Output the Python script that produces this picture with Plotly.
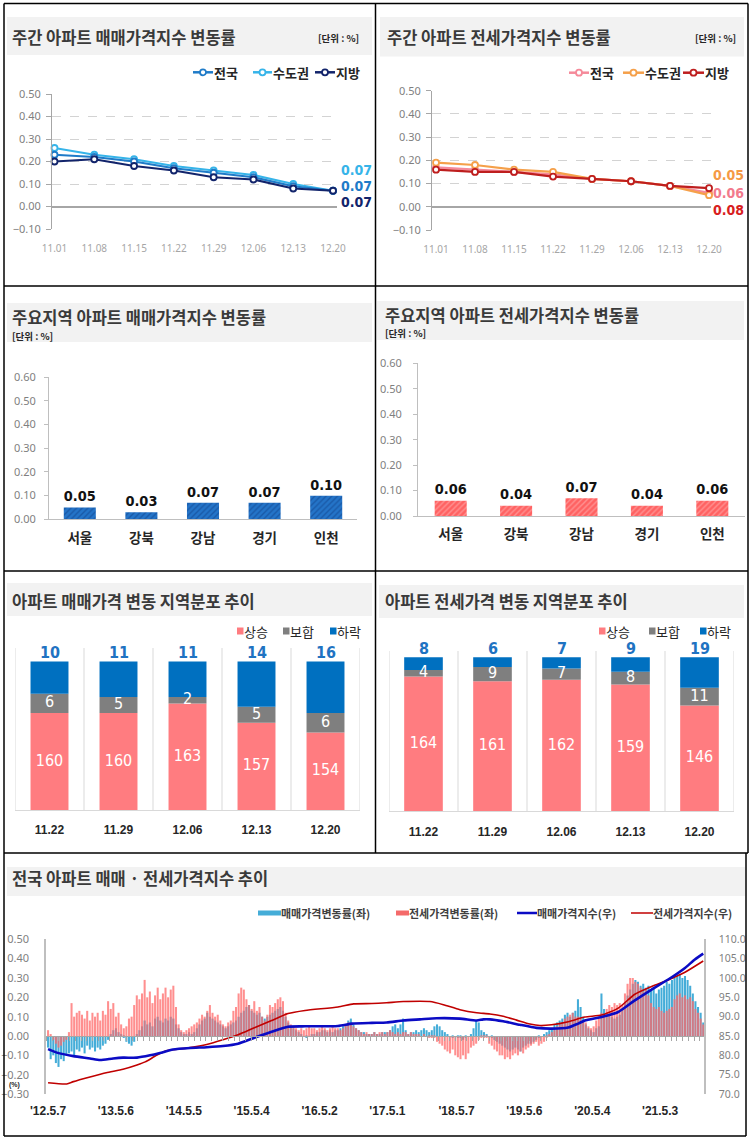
import plotly.graph_objects as go
import pandas as pd

W, H = 753, 1140


def X(px):
    return px / W


def Y(py):
    return 1 - py / H


KR = "Noto Sans CJK KR, Noto Sans, sans-serif"
SANS = "Noto Sans, Liberation Sans, sans-serif"
ARIAL = "Liberation Sans, Arial, sans-serif"
NARROW = "Liberation Sans Narrow, DejaVu Sans Condensed, Liberation Sans, sans-serif"

# ============================ DATA ============================
weeks = ["11.01", "11.08", "11.15", "11.22", "11.29", "12.06", "12.13", "12.20"]
sale_nat = [0.23, 0.22, 0.20, 0.17, 0.15, 0.13, 0.09, 0.07]
sale_cap = [0.26, 0.23, 0.21, 0.18, 0.16, 0.14, 0.10, 0.07]
sale_loc = [0.20, 0.21, 0.18, 0.16, 0.13, 0.12, 0.08, 0.07]
jeonse_nat = [0.17, 0.16, 0.15, 0.14, 0.12, 0.11, 0.09, 0.06]
jeonse_cap = [0.19, 0.18, 0.16, 0.15, 0.12, 0.11, 0.09, 0.05]
jeonse_loc = [0.16, 0.15, 0.15, 0.13, 0.12, 0.11, 0.09, 0.08]

regions = ["서울", "강북", "강남", "경기", "인천"]
region_sale = [0.05, 0.03, 0.07, 0.07, 0.10]
region_jeonse = [0.06, 0.04, 0.07, 0.04, 0.06]

dist_weeks = ["11.22", "11.29", "12.06", "12.13", "12.20"]
sale_up = [160, 160, 163, 157, 154]
sale_flat = [6, 5, 2, 5, 6]
sale_down = [10, 11, 11, 14, 16]
jeonse_up = [164, 161, 162, 159, 146]
jeonse_flat = [4, 9, 7, 8, 11]
jeonse_down = [8, 6, 7, 9, 19]

# bi-weekly samples starting 2012-05-07 (weekly change rates, %)
rate_start = "2012-05-07"
sale_rate = [
    -0.06, -0.12, -0.10, -0.14, -0.16, -0.12, -0.13, -0.10, -0.09, -0.08, -0.10, -0.07, -0.08, -0.06, -0.09, -0.05, -0.07, -0.06,
    -0.08, -0.06, -0.07, -0.05, -0.04, -0.02, 0.01, 0.03, 0.04, 0.02, 0.01, -0.01, -0.03, -0.04, -0.05, -0.03, 0.01, 0.03, 0.05, 0.08, 0.06, 0.07, 0.05, 0.09, 0.10, 0.08,
    0.07, 0.09, 0.08, 0.10, 0.09, 0.06, 0.04, 0.02, 0.01, 0.01, 0.02, 0.01, 0.02, 0.04, 0.06, 0.08, 0.09, 0.12, 0.10, 0.09, 0.08, 0.07, 0.06, 0.05, 0.04, 0.05,
    0.06, 0.07, 0.08, 0.10, 0.12, 0.13, 0.15, 0.16, 0.13, 0.12, 0.11, 0.12, 0.10, 0.09, 0.10, 0.11, 0.12, 0.13, 0.14, 0.15, 0.13, 0.10, 0.07, 0.05, 0.04, 0.03,
    0.02, 0.01, 0.00, -0.01, 0.00, 0.01, 0.01, 0.02, 0.02, 0.03, 0.03, 0.02, 0.03, 0.02, 0.03, 0.03, 0.04, 0.05, 0.06, 0.08, 0.09, 0.06, 0.04, 0.03, 0.02, 0.02,
    0.01, 0.01, 0.01, 0.02, 0.01, 0.01, 0.02, 0.02, 0.02, 0.03, 0.05, 0.06, 0.04, 0.06, 0.09, 0.03, 0.01, 0.02, 0.02, 0.03, 0.02, 0.03, 0.04, 0.03, 0.02, 0.03,
    0.05, 0.06, 0.05, 0.03, 0.02, 0.01, 0.00, -0.01, 0.00, -0.01, -0.01, -0.02, -0.01, 0.00, 0.01, 0.04, 0.08, 0.07, 0.03, 0.02, 0.01, 0.00, -0.01, -0.02, -0.03, -0.04,
    -0.05, -0.06, -0.07, -0.08, -0.07, -0.06, -0.07, -0.08, -0.06, -0.05, -0.04, -0.04, -0.03, -0.02, -0.01, 0.00, 0.01, 0.02, 0.03, 0.04, 0.06, 0.07, 0.08, 0.09, 0.11, 0.12,
    0.10, 0.12, 0.13, 0.19, 0.15, 0.10, 0.06, 0.04, 0.03, 0.02, 0.04, 0.05, 0.22, 0.14, 0.12, 0.11, 0.10, 0.09, 0.10, 0.11, 0.14, 0.17, 0.21, 0.24, 0.27, 0.29,
    0.28, 0.26, 0.27, 0.25, 0.26, 0.24, 0.25, 0.22, 0.24, 0.25, 0.26, 0.28, 0.27, 0.29, 0.30, 0.31, 0.32, 0.30, 0.31, 0.29, 0.26, 0.22, 0.18, 0.15, 0.12, 0.07,
]
jeonse_rate = [
    0.03, 0.01, -0.02, -0.04, -0.06, -0.05, -0.03, -0.02, 0.02, 0.17, 0.10, 0.12, 0.13, 0.11, 0.09, 0.13, 0.08, 0.12,
    0.10, 0.12, 0.08, 0.13, 0.11, 0.18, 0.14, 0.17, 0.10, 0.12, 0.06, 0.04, 0.05, 0.09, 0.10, 0.16, 0.21, 0.19, 0.22, 0.29, 0.20, 0.23, 0.17, 0.21, 0.25, 0.19,
    0.22, 0.25, 0.20, 0.24, 0.26, 0.15, 0.06, 0.03, 0.02, 0.03, 0.04, 0.05, 0.06, 0.07, 0.09, 0.11, 0.10, 0.13, 0.16, 0.12, 0.10, 0.11, 0.08, 0.06, 0.05, 0.07,
    0.08, 0.13, 0.15, 0.22, 0.25, 0.24, 0.19, 0.16, 0.14, 0.18, 0.13, 0.15, 0.10, 0.08, 0.11, 0.16, 0.15, 0.17, 0.19, 0.20, 0.18, 0.12, 0.08, 0.06, 0.05, 0.04,
    0.03, 0.04, 0.03, 0.04, 0.05, 0.04, 0.04, 0.03, 0.04, 0.05, 0.04, 0.03, 0.04, 0.05, 0.04, 0.04, 0.03, 0.04, 0.06, 0.07, 0.06, 0.05, 0.04, 0.03, 0.02, 0.01,
    0.02, 0.01, 0.01, 0.02, 0.01, 0.02, 0.02, 0.01, 0.02, 0.03, 0.02, 0.01, 0.02, 0.01, 0.02, 0.02, 0.01, 0.02, 0.01, 0.01, 0.01, 0.00, 0.01, 0.00, -0.01, -0.01,
    -0.01, -0.03, -0.04, -0.05, -0.07, -0.08, -0.09, -0.07, -0.10, -0.11, -0.12, -0.10, -0.12, -0.09, -0.06, -0.05, -0.04, -0.02, -0.01, -0.01, -0.01, -0.04, -0.05, -0.07, -0.08, -0.10,
    -0.10, -0.12, -0.11, -0.12, -0.10, -0.09, -0.10, -0.08, -0.09, -0.07, -0.06, -0.05, -0.04, -0.03, -0.05, -0.04, -0.03, -0.01, 0.01, 0.02, 0.03, 0.05, 0.06, 0.07, 0.09, 0.10,
    0.11, 0.12, 0.10, 0.10, 0.09, 0.08, 0.07, 0.05, 0.04, 0.05, 0.08, 0.10, 0.12, 0.11, 0.14, 0.16, 0.15, 0.17, 0.16, 0.17, 0.16, 0.22, 0.27, 0.30, 0.30, 0.28,
    0.27, 0.25, 0.23, 0.24, 0.21, 0.17, 0.15, 0.14, 0.15, 0.13, 0.12, 0.13, 0.14, 0.15, 0.19, 0.21, 0.22, 0.20, 0.21, 0.19, 0.20, 0.18, 0.14, 0.12, 0.09, 0.06,
]

sale_index_dates = [
    "2012-05-07", "2012-06-23", "2012-09-20", "2012-12-18", "2013-02-10", "2013-04-21", "2013-06-13",
    "2013-08-27", "2013-11-05", "2013-12-28", "2014-03-08", "2014-06-07", "2014-09-05", "2014-12-01",
    "2015-02-20", "2015-05-22", "2015-08-19", "2015-11-15", "2016-02-14", "2016-08-09", "2016-10-23",
    "2017-02-07", "2017-04-27", "2017-07-25", "2017-10-23", "2018-01-20", "2018-05-25", "2018-08-23",
    "2018-09-27", "2018-11-02", "2019-01-12", "2019-04-12", "2019-07-10", "2019-09-29", "2019-12-27",
    "2020-02-18", "2020-03-25", "2020-06-23", "2020-09-20", "2020-12-18", "2021-03-18", "2021-06-15",
    "2021-09-13", "2021-11-05", "2021-12-20",
]
sale_index = [
    81.6, 80.7, 79.8, 79.2, 78.8, 79.2, 79.4,
    79.4, 80.0, 80.6, 81.5, 81.9, 82.1, 82.4,
    83.0, 84.6, 86.1, 87.4, 87.5, 87.6, 88.2,
    88.4, 88.5, 89.0, 89.3, 89.6, 89.5, 89.0,
    89.3, 89.3, 88.8, 87.9, 87.1, 86.9, 87.2,
    88.2, 89.0, 89.9, 91.2, 94.2, 97.0, 99.6,
    102.6, 104.8, 106.3,
]
jeonse_index_dates = [
    "2012-05-07", "2012-08-15", "2012-09-20", "2012-12-18", "2013-03-15", "2013-06-13", "2013-08-27",
    "2013-10-10", "2013-12-10", "2014-02-01", "2014-04-01", "2014-06-07", "2014-09-05", "2014-12-01",
    "2015-02-20", "2015-05-22", "2015-08-19", "2015-11-15", "2016-02-14", "2016-08-09", "2016-11-01",
    "2017-02-07", "2017-04-27", "2017-07-25", "2017-12-15", "2018-02-25", "2018-05-25", "2018-08-23",
    "2018-11-02", "2019-01-12", "2019-03-25", "2019-06-04", "2019-07-28", "2019-09-29", "2019-12-27",
    "2020-03-25", "2020-06-23", "2020-09-20", "2020-12-18", "2021-03-18", "2021-06-15", "2021-09-13",
    "2021-12-20",
]
jeonse_index = [
    72.9, 72.6, 73.2, 74.4, 75.5, 76.4, 77.5,
    78.3, 80.0, 81.2, 81.6, 82.0, 82.8, 84.0,
    85.3, 87.2, 89.0, 90.8, 91.6, 92.5, 93.3,
    93.4, 93.6, 93.9, 93.9, 93.1, 91.8, 91.0,
    90.7, 90.1, 89.1, 88.1, 87.7, 87.9, 88.7,
    89.9, 90.4, 92.2, 95.8, 97.8, 99.5, 101.5,
    104.4,
]

trend_tick_dates = ["2012-05-07", "2013-05-06", "2014-05-05", "2015-05-04", "2016-05-02",
                    "2017-05-01", "2018-05-07", "2019-05-06", "2020-05-04", "2021-05-03"]
trend_tick_labels = ["'12.5.7", "'13.5.6", "'14.5.5", "'15.5.4", "'16.5.2",
                     "'17.5.1", "'18.5.7", "'19.5.6", "'20.5.4", "'21.5.3"]

# ============================ STYLE ============================
C_NAT, C_CAP, C_LOC = "#1F7BC8", "#36B4E9", "#12246B"
J_NAT, J_CAP, J_LOC = "#F58A9A", "#F5A04A", "#BE1E1E"
C_UP, C_FLAT, C_DOWN = "#FF7C80", "#7F7F7F", "#0070C0"
C_RATE_S, C_RATE_J = "#45ADD8", "#FF6A6A"
C_IDX_S, C_IDX_J = "#0B0BC4", "#C00000"

fig = go.Figure()
annotations = []
shapes = []


def text(x, y, s, size, color="#262626", family=KR, bold=False, xanchor="left", yanchor="middle"):
    annotations.append(dict(x=X(x), y=Y(y), xref="paper", yref="paper",
                            text=f"<b>{s}</b>" if bold else s, showarrow=False,
                            xanchor=xanchor, yanchor=yanchor, borderpad=0,
                            xshift=-2 if xanchor == "left" else (2 if xanchor == "right" else 0),
                            font=dict(family=family, size=size, color=color)))


def pline(x0, y0, x1, y1, color="black", width=1.5):
    shapes.append(dict(type="line", xref="paper", yref="paper", x0=X(x0), y0=Y(y0),
                       x1=X(x1), y1=Y(y1), line=dict(color=color, width=width)))


def prect(x0, y0, x1, y1, color, layer="below"):
    shapes.append(dict(type="rect", xref="paper", yref="paper", x0=X(x0), y0=Y(y1),
                       x1=X(x1), y1=Y(y0), fillcolor=color, line=dict(width=0), layer=layer))


def pcircle(cx, cy, r, color):
    shapes.append(dict(type="circle", xref="paper", yref="paper", x0=X(cx - r), x1=X(cx + r),
                       y0=Y(cy + r), y1=Y(cy - r), fillcolor="white",
                       line=dict(color=color, width=1.8), layer="above"))


# ---------------- panel frames & title bars ----------------
for x0, y0, x1, y1 in [(7, 17, 372, 55), (380, 17, 744, 56.5), (7, 303, 372, 342),
                       (377, 301, 744, 340), (7, 583, 372, 616), (379, 585, 744, 618),
                       (7, 867, 745, 896)]:
    prect(x0, y0, x1, y1, "#F2F2F2")

pline(4, 3.5, 748, 3.5)
pline(4, 286, 748, 286)
pline(4, 571, 748, 571)
pline(4, 853, 748, 853)
pline(4, 1136, 746, 1136)
pline(4, 3.5, 4, 1136)
pline(375.5, 3.5, 375.5, 853)
pline(748, 3.5, 748, 853)
pline(746, 853, 746, 1136)

TITLE_C = "#3A3A3A"
TS = 16.5
text(13, 37, "주간 아파트 매매가격지수 변동률", TS, TITLE_C, bold=True)
text(358, 38, "[단위 : %]", 9.5, "#262626", bold=True, xanchor="right")
text(388, 37, "주간 아파트 전세가격지수 변동률", TS, TITLE_C, bold=True)
text(735, 38, "[단위 : %]", 9.5, "#262626", bold=True, xanchor="right")
text(13, 317, "주요지역 아파트 매매가격지수 변동률", TS, TITLE_C, bold=True)
text(13, 336, "[단위 : %]", 9.5, "#262626", bold=True)
text(386, 314.5, "주요지역 아파트 전세가격지수 변동률", TS, TITLE_C, bold=True)
text(386, 333.5, "[단위 : %]", 9.5, "#262626", bold=True)
text(13, 601, "아파트 매매가격 변동 지역분포 추이", TS, TITLE_C, bold=True)
text(386, 601, "아파트 전세가격 변동 지역분포 추이", TS, TITLE_C, bold=True)
text(13, 878, "전국 아파트 매매 · 전세가격지수 추이", 16.5, TITLE_C, bold=True)


# ---------------- panels 1 & 2 : weekly line charts ----------------
def line_trace(vals, color, xa, ya):
    return go.Scatter(x=weeks, y=vals, mode="lines+markers",
                      line=dict(color=color, width=2.2),
                      marker=dict(size=6, color="white", line=dict(color=color, width=1.8)),
                      xaxis=xa, yaxis=ya, showlegend=False, cliponaxis=False, hoverinfo="skip")


for vals, c in [(sale_cap, C_CAP), (sale_nat, C_NAT), (sale_loc, C_LOC)]:
    fig.add_trace(line_trace(vals, c, "x", "y"))
for vals, c in [(jeonse_nat, J_NAT), (jeonse_cap, J_CAP), (jeonse_loc, J_LOC)]:
    fig.add_trace(line_trace(vals, c, "x2", "y2"))

LAST = len(weeks) - 1
for vals, c, ys in [(sale_cap, C_CAP, 21), (sale_nat, C_NAT, 5), (sale_loc, C_LOC, -11)]:
    annotations.append(dict(x=LAST, y=vals[-1], xref="x", yref="y", text=f"<b>{vals[-1]:.2f}</b>",
                            showarrow=False, xanchor="left", yanchor="middle", xshift=7, yshift=ys,
                            borderpad=0, font=dict(family=NARROW, size=14, color=c)))
for vals, c, ys in [(jeonse_cap, "#F59A45", 20), (jeonse_nat, "#F27A8C", 0), (jeonse_loc, "#D81E1E", -21.5)]:
    annotations.append(dict(x=LAST, y=vals[-1], xref="x2", yref="y2", text=f"<b>{vals[-1]:.2f}</b>",
                            showarrow=False, xanchor="left", yanchor="middle", xshift=3, yshift=ys,
                            borderpad=0, font=dict(family=NARROW, size=14, color=c)))


def line_legend(items, y):
    for x0, x1, name, c in items:
        pline(x0, y, x1, y, c, 2.5)
        pcircle((x0 + x1) / 2, y, 3, c)
        text(x1 + 1.5, y, name, 13, "#262626", bold=True)


line_legend([(193, 213, "전국", C_NAT), (253, 272, "수도권", C_CAP), (315, 335, "지방", C_LOC)], 72.3)
line_legend([(569, 589, "전국", J_NAT), (623, 644, "수도권", J_CAP), (683, 704, "지방", J_LOC)], 72.7)


# ---------------- panels 3 & 4 : region bars ----------------
def region_bar(vals, xa, ya, bg, fg, width, fsize):
    return go.Bar(x=regions, y=vals, width=width, xaxis=xa, yaxis=ya, showlegend=False,
                  marker=dict(color=bg, line=dict(width=0),
                              pattern=dict(shape="/", fgcolor=fg, bgcolor=bg, size=4,
                                           solidity=0.35, fillmode="replace")),
                  texttemplate="<b>%{y:.2f}</b>", textposition="outside",
                  textfont=dict(family=NARROW, size=fsize, color="#111111"),
                  cliponaxis=False, hoverinfo="skip")


fig.add_trace(region_bar(region_sale, "x3", "y3", "#2474C8", "#1A5AA8", 0.52, 19))
fig.add_trace(region_bar(region_jeonse, "x4", "y4", "#FF6262", "#FF9292", 0.49, 16))


# ---------------- panels 5 & 6 : stacked distribution ----------------
def stacked(xa, ya, up, flat, down, ymin, width):
    fig.add_trace(go.Bar(x=dist_weeks, y=up, width=width, marker=dict(color=C_UP, line=dict(width=0)),
                         xaxis=xa, yaxis=ya, showlegend=False, hoverinfo="skip"))
    fig.add_trace(go.Bar(x=dist_weeks, y=flat, base=up, width=width,
                         marker=dict(color=C_FLAT, line=dict(width=0)),
                         xaxis=xa, yaxis=ya, showlegend=False, hoverinfo="skip"))
    fig.add_trace(go.Bar(x=dist_weeks, y=down, base=[u + f for u, f in zip(up, flat)], width=width,
                         marker=dict(color=C_DOWN, line=dict(width=0)),
                         xaxis=xa, yaxis=ya, showlegend=False, hoverinfo="skip"))
    fig.add_trace(go.Scatter(x=dist_weeks, y=[(ymin + u) / 2 for u in up], mode="text",
                             text=[str(u) for u in up],
                             textfont=dict(family=NARROW, size=16, color="white"),
                             xaxis=xa, yaxis=ya, showlegend=False, hoverinfo="skip"))
    fig.add_trace(go.Scatter(x=dist_weeks, y=[u + f / 2 for u, f in zip(up, flat)], mode="text",
                             text=[str(f) for f in flat],
                             textfont=dict(family=NARROW, size=16, color="white"),
                             xaxis=xa, yaxis=ya, showlegend=False, hoverinfo="skip", cliponaxis=False))
    for k, (u, f, d) in enumerate(zip(up, flat, down)):
        annotations.append(dict(x=k, y=u + f + d, xref=xa, yref=ya, text=f"<b>{d}</b>", showarrow=False,
                                xanchor="center", yanchor="bottom", yshift=-3,
                                font=dict(family=NARROW, size=16, color="#1F73C2")))
    for k in range(len(dist_weeks) + 1):
        shapes.append(dict(type="line", xref=xa, yref=ya + " domain", x0=k - 0.5, x1=k - 0.5, y0=0, y1=1,
                           line=dict(color="#D9D9D9", width=1), layer="below"))


SALE_YMIN, JEONSE_YMIN = 130, 80
stacked("x5", "y5", sale_up, sale_flat, sale_down, SALE_YMIN, 0.55)
stacked("x6", "y6", jeonse_up, jeonse_flat, jeonse_down, JEONSE_YMIN, 0.56)


def square_legend(items, y):
    for x0, name, c in items:
        shapes.append(dict(type="rect", xref="paper", yref="paper", x0=X(x0), x1=X(x0 + 6.5),
                           y0=Y(y + 3.5), y1=Y(y - 3.5), fillcolor=c, line=dict(width=0)))
        text(x0 + 7.5, y, name, 13, "#262626")


square_legend([(237, "상승", C_UP), (283, "보합", C_FLAT), (330, "하락", C_DOWN)], 631)
square_legend([(599, "상승", C_UP), (649, "보합", C_FLAT), (700, "하락", C_DOWN)], 631)

# ---------------- panel 7 : long-run trend ----------------
sale_rate_dates = pd.date_range(rate_start, periods=len(sale_rate), freq="14D")
jeonse_rate_dates = pd.date_range(rate_start, periods=len(jeonse_rate), freq="14D")
BAR_W = 11 * 24 * 3600 * 1000

fig.add_trace(go.Bar(x=sale_rate_dates, y=sale_rate, width=BAR_W, marker=dict(color=C_RATE_S, line=dict(width=0)),
                     xaxis="x7", yaxis="y7", showlegend=False, hoverinfo="skip"))
fig.add_trace(go.Bar(x=jeonse_rate_dates, y=jeonse_rate, width=BAR_W,
                     marker=dict(color=C_RATE_J, line=dict(width=0)), opacity=0.75,
                     xaxis="x7", yaxis="y7", showlegend=False, hoverinfo="skip"))
fig.add_trace(go.Scatter(x=pd.to_datetime(jeonse_index_dates), y=jeonse_index, mode="lines",
                         line=dict(color=C_IDX_J, width=1.6, shape="spline", smoothing=0.6),
                         xaxis="x7", yaxis="y8", showlegend=False, hoverinfo="skip"))
fig.add_trace(go.Scatter(x=pd.to_datetime(sale_index_dates), y=sale_index, mode="lines",
                         line=dict(color=C_IDX_S, width=2.6, shape="spline", smoothing=0.6),
                         xaxis="x7", yaxis="y8", showlegend=False, hoverinfo="skip"))
# carrier for the zero-line tick band axis
fig.add_trace(go.Scatter(x=[sale_rate_dates[0]], y=[0], mode="markers", marker=dict(size=1, opacity=0),
                         xaxis="x8", yaxis="y7", showlegend=False, hoverinfo="skip"))

LEG_Y = 913
prect(258, LEG_Y - 2.5, 281, LEG_Y + 2.5, C_RATE_S, layer="above")
text(282, LEG_Y, "매매가격변동률(좌)", 11, "#404040", bold=True)
prect(396, LEG_Y - 2.5, 409, LEG_Y + 2.5, "#F46A6A", layer="above")
text(410, LEG_Y, "전세가격변동률(좌)", 11, "#404040", bold=True)
pline(517, LEG_Y, 537, LEG_Y, C_IDX_S, 2.5)
text(538, LEG_Y, "매매가격지수(우)", 11, "#404040", bold=True)
pline(631, LEG_Y, 653, LEG_Y, C_IDX_J, 1.5)
text(654, LEG_Y, "전세가격지수(우)", 11, "#404040", bold=True)
text(10, 1084.5, "(%)", 7, "#262626", family=ARIAL, bold=True)

# ============================ AXES ============================
GRAY_T = "#7F7F7F"


def line_yaxis(top, bottom, anchor):
    return dict(domain=[Y(bottom), Y(top)], anchor=anchor, range=[-0.1, 0.5], dtick=0.1, tick0=0,
                tickformat=".2f", showline=True, linecolor="#A6A6A6", linewidth=1,
                ticks="outside", ticklen=5, tickcolor="#A6A6A6",
                showgrid=True, gridcolor="#D3D3D3", griddash="dash", gridwidth=1,
                zeroline=True, zerolinecolor="#A6A6A6", zerolinewidth=1.5,
                tickfont=dict(family=SANS, size=11, color=GRAY_T), ticklabelstandoff=3, fixedrange=True)


def line_xaxis(left, right, anchor, rng):
    return dict(domain=[X(left), X(right)], anchor=anchor, type="category", range=rng,
                showline=False, showgrid=False, zeroline=False, ticks="",
                tickfont=dict(family=SANS, size=10, color="#A6A6A6"), ticklabelstandoff=12, fixedrange=True)


def bar_xaxis(left, right, anchor, standoff):
    return dict(domain=[X(left), X(right)], anchor=anchor, type="category", range=[-0.5, 4.5],
                showline=True, linecolor="#BFBFBF", linewidth=1, showgrid=False, zeroline=False, ticks="",
                tickvals=regions, ticktext=[f"<b>{r}</b>" for r in regions],
                tickfont=dict(family=KR, size=13.5, color="#262626"), ticklabelstandoff=standoff, fixedrange=True)


def bar_yaxis(top, bottom, anchor, standoff):
    return dict(domain=[Y(bottom), Y(top)], anchor=anchor, range=[0, 0.6], dtick=0.1, tick0=0,
                tickformat=".2f", showline=True, linecolor="#BFBFBF", linewidth=1,
                ticks="outside", ticklen=4, tickcolor="#BFBFBF", showgrid=False, zeroline=False,
                tickfont=dict(family=SANS, size=11, color=GRAY_T), ticklabelstandoff=standoff, fixedrange=True)


def dist_xaxis(left, right, anchor):
    return dict(domain=[X(left), X(right)], anchor=anchor, type="category", range=[-0.5, 4.5],
                showline=True, linecolor="#D9D9D9", linewidth=1, showgrid=False, zeroline=False, ticks="",
                tickvals=dist_weeks, ticktext=[f"<b>{w}</b>" for w in dist_weeks],
                tickfont=dict(family=ARIAL, size=12, color="#262626"), ticklabelstandoff=9, fixedrange=True)


def dist_yaxis(top, bottom, anchor, rng):
    return dict(domain=[Y(bottom), Y(top)], anchor=anchor, range=rng, visible=False, fixedrange=True)


TREND_RANGE = ["2012-04-26", "2021-12-24"]
ZERO_PY = 1036.3

fig.update_layout(
    width=W, height=H, autosize=False,
    margin=dict(l=0, r=0, t=0, b=0, pad=0, autoexpand=False),
    paper_bgcolor="white", plot_bgcolor="white", barmode="overlay", showlegend=False,
    font=dict(family=KR, color="#262626"),
    xaxis=line_xaxis(52, 337, "y", [-0.063, 7.1]),
    yaxis=line_yaxis(94, 229, "x"),
    xaxis2=line_xaxis(432, 711, "y2", [-0.103, 7.05]),
    yaxis2=line_yaxis(90.7, 230, "x2"),
    xaxis3=bar_xaxis(49, 357, "y3", 6),
    yaxis3=bar_yaxis(377.3, 519.3, "x3", 6),
    xaxis4=bar_xaxis(418, 745, "y4", 6),
    yaxis4=bar_yaxis(363.3, 516, "x4", 9),
    xaxis5=dist_xaxis(15, 360, "y5"),
    yaxis5=dist_yaxis(648, 810, "x5", [SALE_YMIN, 180.15]),
    xaxis6=dist_xaxis(389, 734, "y6"),
    yaxis6=dist_yaxis(651, 811.3, "x6", [JEONSE_YMIN, 179.9]),
    xaxis7=dict(domain=[X(46), X(704)], anchor="y7", type="date", range=TREND_RANGE,
                tickvals=pd.to_datetime(trend_tick_dates), ticktext=[f"<b>{t}</b>" for t in trend_tick_labels],
                showline=False, showgrid=False, zeroline=False, ticks="",
                tickfont=dict(family=ARIAL, size=12, color="#262626"), ticklabelstandoff=8, fixedrange=True),
    yaxis7=dict(domain=[Y(1094), Y(939.3)], anchor="x7", range=[-0.3, 0.5], dtick=0.1, tick0=0,
                tickformat=".2f", showline=True, linecolor="#BFBFBF", linewidth=1.5, ticks="",
                showgrid=False, zeroline=False, tickfont=dict(family=SANS, size=11, color=GRAY_T),
                ticklabelstandoff=13, fixedrange=True),
    yaxis8=dict(overlaying="y7", side="right", anchor="x7", range=[70, 110], dtick=5, tick0=70,
                tickformat=".1f", showline=True, linecolor="#BFBFBF", linewidth=1.5, ticks="",
                showgrid=False, zeroline=False, tickfont=dict(family=SANS, size=10.5, color=GRAY_T),
                ticklabelstandoff=11, fixedrange=True),
    xaxis8=dict(overlaying="x7", anchor="free", position=Y(ZERO_PY), type="date", range=TREND_RANGE,
                tick0="2012-05-01", dtick="M1", ticks="outside", ticklen=4, tickcolor="#A6A6A6", tickwidth=1,
                showticklabels=False, showline=True, linecolor="#A6A6A6", linewidth=1.2,
                showgrid=False, zeroline=False, fixedrange=True),
    annotations=annotations,
    shapes=shapes,
)

fig.write_html("out.html", config={"displayModeBar": False},
               post_script="document.body.style.margin='0px';document.body.style.overflow='hidden';")
